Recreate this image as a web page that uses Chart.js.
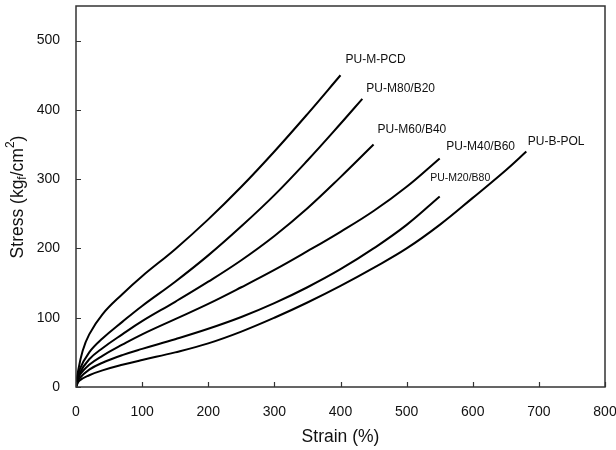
<!DOCTYPE html>
<html lang="en">
<head>
    <meta charset="UTF-8">
    <script src="https://cdn.jsdelivr.net/npm/chart.js"></script>
    <style>
        html, body { margin: 0; padding: 0; background: #fff; }
        #wrap { width: 616px; height: 450px; position: relative; }
    </style>
</head>
<body>
    <div id="wrap"><canvas id="stressChart"></canvas></div>

    <script>
        // strain (%) / stress (kgf/cm2)
        const pcdStrain = [0, 3, 10, 20, 40, 70, 100, 150, 200, 250, 300, 350, 400];
        const pcdStress = [0, 22, 52, 76, 105, 134, 160, 199, 242, 289, 340, 394, 450];

        const m80Strain = [0, 5, 20, 40, 70, 100, 150, 200, 250, 300, 350, 400, 433];
        const m80Stress = [0, 24, 50, 70, 94, 117, 152, 190, 232, 277, 327, 380, 416];

        const m60Strain = [0, 5, 20, 40, 70, 100, 150, 200, 250, 300, 350, 400, 450];
        const m60Stress = [0, 19, 40, 56, 76, 95, 123, 152, 183, 218, 258, 303, 350];

        const m40Strain = [0, 5, 20, 40, 70, 100, 150, 200, 250, 300, 350, 400, 450, 500, 550];
        const m40Stress = [0, 16, 32, 45, 61, 76, 98, 120, 144, 169, 196, 224, 254, 289, 330];

        const m20Strain = [0, 5, 20, 40, 70, 100, 150, 200, 250, 300, 350, 400, 450, 500, 550];
        const m20Stress = [0, 12, 25, 35, 46, 55, 69, 84, 101, 121, 144, 170, 200, 234, 275];

        const polStrain = [0, 5, 20, 40, 70, 100, 150, 200, 250, 300, 350, 400, 450, 500, 550, 600, 650, 681];
        const polStress = [0, 9, 17, 24, 32, 39, 50, 63, 80, 100, 122, 146, 172, 200, 234, 273, 313, 340];

        const seriesNames = ['PU-M-PCD', 'PU-M80/B20', 'PU-M60/B40', 'PU-M40/B60', 'PU-M20/B80', 'PU-B-POL'];
        // where each name sits (strain, stress)
        const nameX = [453, 491, 508, 612, 581, 726];
        const nameY = [473, 430, 372, 347, 301, 354];

        const xTicks = [0, 100, 200, 300, 400, 500, 600, 700, 800];
        const yTicks = [0, 100, 200, 300, 400, 500];

        const allStrain = [pcdStrain, m80Strain, m60Strain, m40Strain, m20Strain, polStrain];
        const allStress = [pcdStress, m80Stress, m60Stress, m40Stress, m20Stress, polStress];

        const FONT = '"Liberation Sans", Arial, sans-serif';

        const datasets = seriesNames.map((name, i) => ({
            label: name,
            data: allStrain[i].map((x, j) => ({ x: x, y: allStress[i][j] })),
            borderColor: '#000',
            borderWidth: 2,
            pointRadius: 0,
            fill: false,
            tension: 0.4
        }));

        // frame, inward ticks, axis titles and curve names
        const decor = {
            id: 'decor',
            afterDatasetsDraw(chart) {
                const ctx = chart.ctx;
                const a = chart.chartArea;
                const xs = chart.scales.x, ys = chart.scales.y;
                ctx.save();
                ctx.strokeStyle = '#333';
                ctx.lineWidth = 1.5;
                ctx.strokeRect(a.left, a.top, a.right - a.left, a.bottom - a.top);

                ctx.lineWidth = 1.2;
                ctx.beginPath();
                xTicks.forEach(v => {
                    const px = Math.round(xs.getPixelForValue(v)) + 0.5;
                    ctx.moveTo(px, a.bottom);
                    ctx.lineTo(px, a.bottom - 5);
                });
                yTicks.forEach(v => {
                    const py = Math.round(ys.getPixelForValue(v)) + 0.5;
                    ctx.moveTo(a.left, py);
                    ctx.lineTo(a.left + 5, py);
                });
                ctx.stroke();

                ctx.fillStyle = '#111';
                ctx.textBaseline = 'middle';
                ctx.textAlign = 'center';
                ctx.font = '17.5px ' + FONT;
                ctx.fillText('Strain (%)', (a.left + a.right) / 2, 437);

                // y title with subscript f and superscript 2
                const parts = [
                    { t: 'Stress (kg', s: 17.5, dy: 0 },
                    { t: 'f', s: 12, dy: 5 },
                    { t: '/cm', s: 17.5, dy: 0 },
                    { t: '2', s: 12, dy: -7 },
                    { t: ')', s: 17.5, dy: 0 }
                ];
                let total = 0;
                parts.forEach(p => { ctx.font = p.s + 'px ' + FONT; p.w = ctx.measureText(p.t).width; total += p.w; });
                ctx.translate(18, 197);
                ctx.rotate(-Math.PI / 2);
                ctx.textAlign = 'left';
                let cx = -total / 2;
                parts.forEach(p => {
                    ctx.font = p.s + 'px ' + FONT;
                    ctx.fillText(p.t, cx, p.dy);
                    cx += p.w;
                });
                ctx.setTransform(1, 0, 0, 1, 0, 0);

                ctx.textAlign = 'center';
                seriesNames.forEach((name, i) => {
                    ctx.font = (name === 'PU-M20/B80' ? '10.5px ' : '12px ') + FONT;
                    ctx.fillText(name, xs.getPixelForValue(nameX[i]), ys.getPixelForValue(nameY[i]));
                });
                ctx.restore();
            }
        };

        new Chart(document.getElementById('stressChart'), {
            type: 'line',
            data: { datasets: datasets },
            options: {
                responsive: true,
                maintainAspectRatio: false,
                animation: false,
                layout: { padding: { top: 6, right: 11, left: 0, bottom: 0 } },
                plugins: {
                    legend: { display: false },
                    tooltip: { enabled: false }
                },
                scales: {
                    x: {
                        type: 'linear',
                        min: 0,
                        max: 800,
                        grid: { display: false },
                        border: { display: false },
                        ticks: { stepSize: 100, padding: 9, color: '#111', font: { size: 14, family: FONT } },
                        afterBuildTicks: axis => { axis.ticks = xTicks.map(v => ({ value: v })); },
                        afterFit: scale => { scale.height = 63; scale.paddingLeft = 0; scale.paddingRight = 0; }
                    },
                    y: {
                        type: 'linear',
                        min: 0,
                        max: 550,
                        grid: { display: false },
                        border: { display: false },
                        ticks: { padding: 8, color: '#111', font: { size: 14, family: FONT } },
                        afterBuildTicks: axis => { axis.ticks = yTicks.map(v => ({ value: v })); },
                        afterFit: scale => { scale.width = 76; scale.paddingTop = 0; scale.paddingBottom = 0; }
                    }
                }
            },
            plugins: [decor]
        });
    </script>
</body>
</html>
